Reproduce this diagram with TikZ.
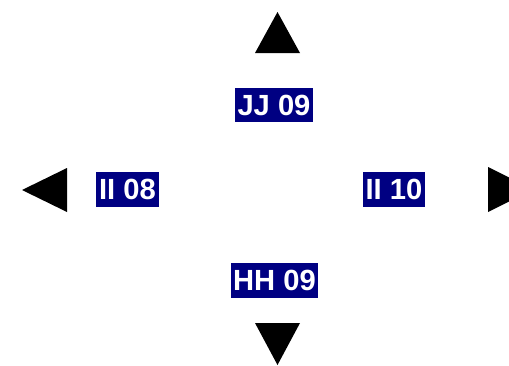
\documentclass[tikz,border=0pt]{standalone}
\usepackage{xcolor}
\usepackage{fontspec}
\setmainfont{Liberation Sans}
\usepackage{tikz}
\usetikzlibrary{positioning}

\definecolor{navylbl}{RGB}{0,0,130}

\begin{document}
\begin{tikzpicture}[
  x=0.02cm, y=-0.02cm,
  lbl/.style={rectangle, fill=navylbl, text=white, inner xsep=1.5pt, inner ysep=0pt,
    minimum height=0.7cm, font=\fontsize{16.6}{18}\selectfont\bfseries},
  tri/.style={fill=black}
]
  \useasboundingbox (0,0) rectangle (509,365);
  \clip (0,0) rectangle (509,365);

  \node[lbl] (jj09) at (274,105) {JJ 09};
  \node[lbl] (ii08) at (127.5,189.5) {II 08};
  \node[lbl] (ii10) at (394,189.5) {II 10};
  \node[lbl] (hh09) at (274.5,280.5) {HH 09};

  % arrows pointing out
  \fill[tri] (255,53) -- (300,53) -- (277.5,12) -- cycle;
  \fill[tri] (255,323) -- (300,323) -- (277.5,365) -- cycle;
  \fill[tri] (67,168) -- (67,212) -- (22,190) -- cycle;
  \fill[tri] (488,167) -- (488,212) -- (533,189.5) -- cycle;
\end{tikzpicture}
\end{document}
